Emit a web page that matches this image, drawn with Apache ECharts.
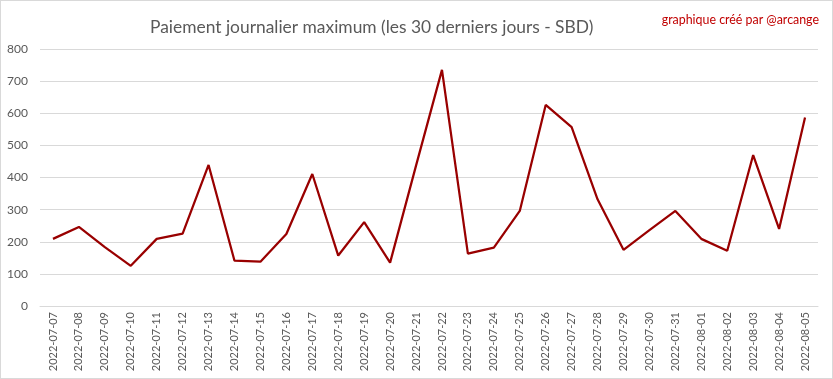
<!DOCTYPE html>
<html>
<head>
<meta charset="utf-8">
<script src="https://cdn.jsdelivr.net/npm/echarts@6/dist/echarts.min.js"></script>
<style>
html,body{margin:0;padding:0;background:#fff;}
#c{width:833px;height:379px;box-sizing:border-box;border:1px solid #d9d9d9;}
</style>
</head>
<body>
<div id="c"></div>
<script>
const dates = ["2022-07-07","2022-07-08","2022-07-09","2022-07-10","2022-07-11","2022-07-12","2022-07-13","2022-07-14","2022-07-15","2022-07-16","2022-07-17","2022-07-18","2022-07-19","2022-07-20","2022-07-21","2022-07-22","2022-07-23","2022-07-24","2022-07-25","2022-07-26","2022-07-27","2022-07-28","2022-07-29","2022-07-30","2022-07-31","2022-08-01","2022-08-02","2022-08-03","2022-08-04","2022-08-05"];
const maxPayout = [209,246,183,125,209,225,439,141,138,224,411,157,261,135,437,735,163,182,296,626,557,332,175,236,296,209,172,470,240,587];
const yTicks = {min:0, max:800, interval:100};
const titleText = "Paiement journalier maximum (les 30 derniers jours - SBD)";
const creditText = "graphique créé par @arcange";

const chart = echarts.init(document.getElementById('c'), null, {renderer:'canvas'});
chart.setOption({
  animation:false,
  backgroundColor:'#fff',
  textStyle:{fontFamily:'Lato'},
  title:[
    {text:titleText, left:144, top:13, textStyle:{fontFamily:'Lato', fontSize:17.4, fontWeight:'normal', color:'#595959'}},
    {text:creditText, right:8, top:8, textStyle:{fontFamily:'Lato', fontSize:12.4, fontWeight:'normal', color:'#c00000'}}
  ],
  grid:{left:39, right:14, top:48, bottom:72, containLabel:false},
  xAxis:{
    type:'category', data:dates, boundaryGap:true,
    axisLine:{lineStyle:{color:'#d9d9d9'}},
    axisTick:{show:false},
    axisLabel:{rotate:90, interval:0, color:'#595959', fontSize:11, margin:6, fontFamily:'Lato'}
  },
  yAxis:{
    type:'value', min:yTicks.min, max:yTicks.max, interval:yTicks.interval,
    axisLine:{show:false}, axisTick:{show:false},
    splitLine:{lineStyle:{color:'#d9d9d9', width:1}},
    axisLabel:{color:'#595959', fontSize:12, margin:12, fontFamily:'Lato'}
  },
  series:[{
    type:'line', data:maxPayout, symbol:'none',
    lineStyle:{color:'#990000', width:2.25}
  }]
});
</script>
</body>
</html>
